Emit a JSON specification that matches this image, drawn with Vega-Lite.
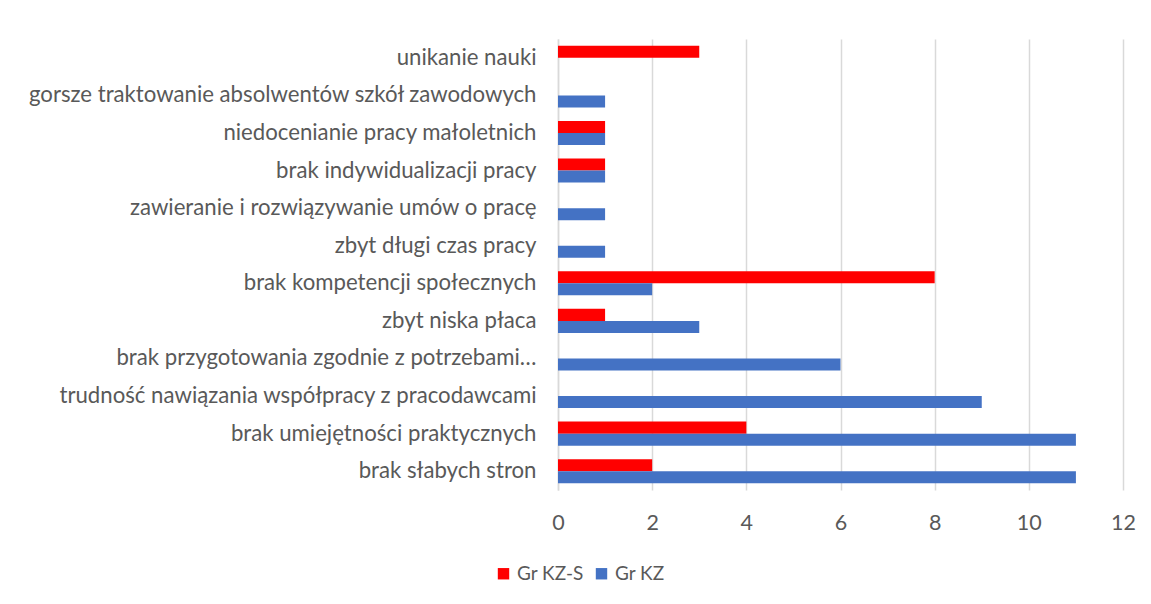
{
  "$schema": "https://vega.github.io/schema/vega-lite/v6.json",
  "width": 565,
  "height": 451,
  "autosize": {"type": "none"},
  "padding": {"left": 558, "top": 39, "right": 28, "bottom": 114},
  "background": "white",
  "data": {
    "values": [
      {"kategoria": "unikanie nauki", "grupa": "Gr KZ-S", "liczba": 3},
      {"kategoria": "gorsze traktowanie absolwentów szkół zawodowych", "grupa": "Gr KZ", "liczba": 1},
      {"kategoria": "niedocenianie pracy małoletnich", "grupa": "Gr KZ-S", "liczba": 1},
      {"kategoria": "niedocenianie pracy małoletnich", "grupa": "Gr KZ", "liczba": 1},
      {"kategoria": "brak indywidualizacji pracy ", "grupa": "Gr KZ-S", "liczba": 1},
      {"kategoria": "brak indywidualizacji pracy ", "grupa": "Gr KZ", "liczba": 1},
      {"kategoria": "zawieranie i rozwiązywanie umów o pracę", "grupa": "Gr KZ", "liczba": 1},
      {"kategoria": "zbyt długi czas pracy", "grupa": "Gr KZ", "liczba": 1},
      {"kategoria": "brak kompetencji społecznych", "grupa": "Gr KZ-S", "liczba": 8},
      {"kategoria": "brak kompetencji społecznych", "grupa": "Gr KZ", "liczba": 2},
      {"kategoria": "zbyt niska płaca", "grupa": "Gr KZ-S", "liczba": 1},
      {"kategoria": "zbyt niska płaca", "grupa": "Gr KZ", "liczba": 3},
      {"kategoria": "brak przygotowania zgodnie z potrzebami…", "grupa": "Gr KZ", "liczba": 6},
      {"kategoria": "trudność nawiązania współpracy z pracodawcami", "grupa": "Gr KZ", "liczba": 9},
      {"kategoria": "brak umiejętności praktycznych ", "grupa": "Gr KZ-S", "liczba": 4},
      {"kategoria": "brak umiejętności praktycznych ", "grupa": "Gr KZ", "liczba": 11},
      {"kategoria": "brak słabych stron", "grupa": "Gr KZ-S", "liczba": 2},
      {"kategoria": "brak słabych stron", "grupa": "Gr KZ", "liczba": 11}
    ]
  },
  "mark": {"type": "bar"},
  "encoding": {
    "y": {
      "field": "kategoria",
      "type": "nominal",
      "sort": [
        "unikanie nauki",
        "gorsze traktowanie absolwentów szkół zawodowych",
        "niedocenianie pracy małoletnich",
        "brak indywidualizacji pracy ",
        "zawieranie i rozwiązywanie umów o pracę",
        "zbyt długi czas pracy",
        "brak kompetencji społecznych",
        "zbyt niska płaca",
        "brak przygotowania zgodnie z potrzebami…",
        "trudność nawiązania współpracy z pracodawcami",
        "brak umiejętności praktycznych ",
        "brak słabych stron"
      ],
      "scale": {"paddingInner": 0.36, "paddingOuter": 0.18},
      "axis": {
        "title": null,
        "ticks": false,
        "domain": true,
        "domainColor": "#d9d9d9",
        "domainWidth": 1.5,
        "labelFont": "Lato",
        "labelFontSize": 22.2,
        "labelColor": "#595959",
        "labelPadding": 22,
        "labelLimit": 700
      }
    },
    "yOffset": {
      "field": "grupa",
      "type": "nominal",
      "sort": ["Gr KZ-S", "Gr KZ"],
      "scale": {"domain": ["Gr KZ-S", "Gr KZ"], "paddingInner": 0, "paddingOuter": 0}
    },
    "x": {
      "field": "liczba",
      "type": "quantitative",
      "scale": {"domain": [0, 12]},
      "axis": {
        "title": null,
        "values": [0, 2, 4, 6, 8, 10, 12],
        "ticks": false,
        "domain": false,
        "grid": true,
        "gridColor": "#d9d9d9",
        "gridWidth": 1.5,
        "labelFlush": false,
        "labelFont": "Lato",
        "labelFontSize": 21.5,
        "labelColor": "#595959",
        "labelPadding": 22
      }
    },
    "color": {
      "field": "grupa",
      "type": "nominal",
      "scale": {"domain": ["Gr KZ-S", "Gr KZ"], "range": ["#ff0000", "#4472c4"]},
      "legend": {
        "title": null,
        "orient": "none",
        "direction": "horizontal",
        "legendX": -64,
        "legendY": 525,
        "symbolType": "square",
        "symbolSize": 130,
        "symbolStrokeWidth": 0,
        "labelFont": "Lato",
        "labelFontSize": 19,
        "labelColor": "#595959",
        "columnPadding": 8,
        "labelOffset": 4
      }
    }
  },
  "config": {"view": {"stroke": null}}
}
